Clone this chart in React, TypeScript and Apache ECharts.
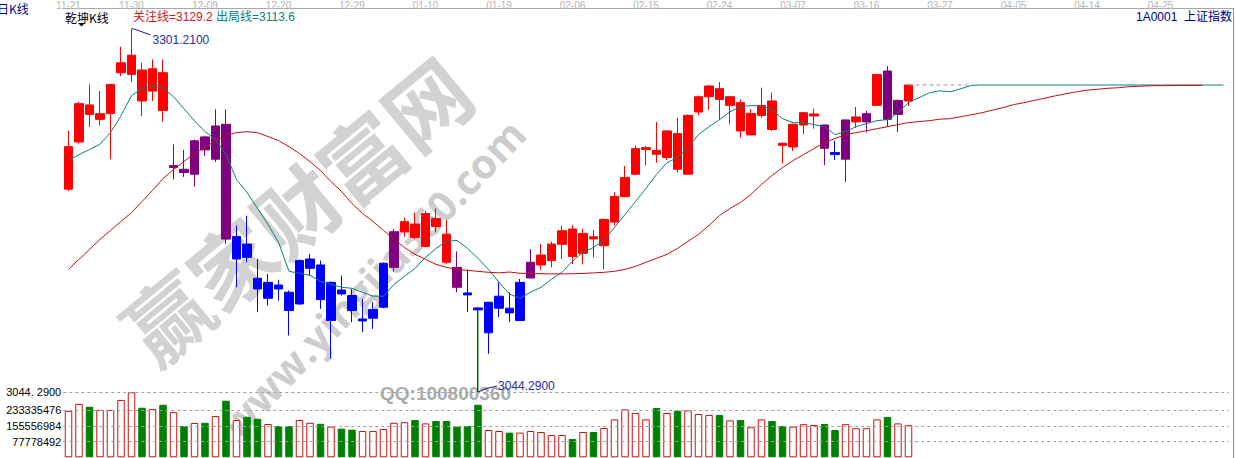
import React, { useEffect, useRef } from 'react';
import * as echarts from 'echarts';

// ---- categories / ticks ----
const slotCount = 111;
const tickSlots = [0, 6, 13, 20, 27, 34, 41, 48, 55, 62, 69, 76, 83, 90, 97, 104];
const tickLabels = ['11-21', '11-30', '12-09', '12-20', '12-29', '01-10', '01-19', '02-06', '02-15', '02-24', '03-07', '03-16', '03-27', '04-05', '04-14', '04-25'];
const categories = Array.from({ length: slotCount }, (_, i) => String(i));

// ---- candles: [open, close, low, high] ----
const ohlc: number[][] = [
  [3187.8, 3217.9, 3186.5, 3229.0], [3221.2, 3248.3, 3220.0, 3249.7], [3247.4, 3240.7, 3231.8, 3261.9], [3237.2, 3241.2, 3233.0, 3257.2], [3241.4, 3261.9, 3209.0, 3262.4],
  [3270.2, 3277.2, 3267.8, 3288.5], [3269.0, 3282.6, 3263.6, 3301.21], [3272.1, 3250.2, 3239.6, 3277.2], [3257.2, 3273.0, 3250.2, 3279.5], [3270.2, 3243.5, 3235.6, 3279.5],
  [3203.1, 3204.5, 3194.8, 3219.5], [3201.9, 3199.6, 3196.5, 3215.6], [3198.4, 3222.0, 3189.5, 3222.9], [3224.8, 3215.6, 3211.4, 3225.7], [3209.0, 3232.5, 3207.1, 3244.3],
  [3233.7, 3152.5, 3149.0, 3244.3], [3138.4, 3154.4, 3118.4, 3162.0], [3149.0, 3139.6, 3136.1, 3169.0], [3124.8, 3117.2, 3100.8, 3138.4], [3110.6, 3121.9, 3105.5, 3127.8],
  [3120.0, 3117.2, 3109.0, 3123.8], [3114.9, 3102.0, 3084.3, 3116.1], [3106.6, 3137.3, 3106.0, 3138.2], [3131.8, 3138.4, 3126.7, 3141.9], [3134.2, 3109.7, 3103.1, 3137.3],
  [3094.9, 3121.9, 3067.8, 3122.5], [3116.5, 3113.7, 3112.6, 3126.7], [3112.6, 3102.0, 3093.7, 3117.2], [3094.6, 3096.0, 3086.6, 3110.2], [3096.5, 3102.7, 3089.0, 3107.8],
  [3104.3, 3135.4, 3103.6, 3136.1], [3132.5, 3157.7, 3129.5, 3159.6], [3157.7, 3164.8, 3154.2, 3167.8], [3163.1, 3153.7, 3152.5, 3171.3], [3147.3, 3170.6, 3146.6, 3172.5],
  [3167.1, 3161.3, 3157.2, 3174.2], [3156.0, 3136.1, 3134.9, 3166.2], [3132.5, 3118.4, 3114.9, 3143.8], [3114.4, 3113.0, 3100.8, 3130.9], [3103.8, 3102.4, 3044.29, 3104.3],
  [3086.2, 3107.8, 3071.3, 3108.2], [3103.6, 3112.1, 3097.2, 3122.6], [3103.6, 3100.3, 3093.7, 3114.9], [3094.9, 3121.9, 3094.5, 3124.3], [3125.0, 3136.1, 3124.8, 3145.4],
  [3134.2, 3141.2, 3130.9, 3149.0], [3137.3, 3149.0, 3132.5, 3150.7], [3148.8, 3158.4, 3138.4, 3162.0], [3159.6, 3140.1, 3134.9, 3162.4], [3142.4, 3156.5, 3134.6, 3159.6],
  [3154.1, 3152.6, 3139.6, 3159.0], [3147.8, 3166.4, 3131.3, 3167.1], [3164.5, 3182.6, 3162.2, 3185.7], [3182.6, 3196.0, 3181.9, 3204.3], [3198.4, 3216.5, 3198.2, 3218.8],
  [3215.8, 3217.2, 3204.7, 3218.4], [3215.3, 3212.5, 3206.6, 3235.4], [3210.2, 3229.0, 3208.5, 3229.6], [3227.1, 3201.9, 3199.6, 3238.4], [3198.4, 3240.0, 3198.2, 3240.7],
  [3242.4, 3253.2, 3240.0, 3254.0], [3253.2, 3260.8, 3243.8, 3261.3], [3258.9, 3251.3, 3236.8, 3263.6], [3247.1, 3253.2, 3233.7, 3253.6], [3249.0, 3229.0, 3224.3, 3251.3],
  [3226.2, 3241.4, 3226.0, 3244.3], [3240.0, 3247.1, 3238.4, 3259.6], [3250.2, 3230.1, 3229.0, 3256.0], [3220.3, 3218.8, 3206.1, 3220.8], [3217.7, 3233.7, 3214.9, 3234.2],
  [3233.2, 3241.9, 3226.6, 3242.3], [3239.6, 3241.0, 3230.6, 3244.7], [3233.2, 3216.7, 3204.7, 3233.4], [3213.7, 3212.3, 3208.5, 3222.0], [3209.0, 3236.8, 3193.0, 3237.0],
  [3235.4, 3238.9, 3231.3, 3246.0], [3235.4, 3241.2, 3227.8, 3243.1], [3247.1, 3269.0, 3246.9, 3269.4], [3271.4, 3237.2, 3231.8, 3274.9], [3240.7, 3250.6, 3228.3, 3251.3],
  [3250.2, 3261.5, 3246.7, 3261.7],
];

// trend state of each candle: R red, P purple, B blue
const trend: string[] = [
  'R', 'R', 'R', 'R', 'R', 'R', 'R', 'R', 'R', 'R',
  'P', 'P', 'P', 'P', 'P', 'P', 'B', 'B', 'B', 'B',
  'B', 'B', 'B', 'B', 'B', 'B', 'B', 'B', 'B', 'B',
  'B', 'P', 'R', 'R', 'R', 'R', 'R', 'P', 'B', 'B',
  'B', 'B', 'B', 'B', 'P', 'R', 'R', 'R', 'R', 'R',
  'R', 'R', 'R', 'R', 'R', 'R', 'R', 'R', 'R', 'R',
  'R', 'R', 'R', 'R', 'R', 'R', 'R', 'R', 'R', 'R',
  'R', 'R', 'P', 'B', 'P', 'R', 'P', 'R', 'P', 'P',
  'R',
];

const volumes: number[] = [
  232000000, 266000000, 252000000, 236000000, 236000000, 286000000, 324000000, 247000000, 241000000, 262000000,
  226000000, 156000000, 171000000, 172000000, 206000000, 282000000, 186000000, 202000000, 192000000, 166000000,
  156000000, 156000000, 186000000, 172000000, 167000000, 153000000, 143000000, 138000000, 131000000, 131000000,
  141000000, 172000000, 175000000, 186000000, 169000000, 181000000, 181000000, 153000000, 156000000, 262000000,
  136000000, 131000000, 123000000, 123000000, 131000000, 126000000, 111000000, 111000000, 91000000, 126000000,
  126000000, 146000000, 189000000, 239000000, 221000000, 189000000, 246000000, 221000000, 232000000, 234000000,
  216000000, 211000000, 211000000, 184000000, 186000000, 150000000, 189000000, 181000000, 156000000, 153000000,
  165000000, 161000000, 166000000, 136000000, 165000000, 145000000, 145000000, 189000000, 201000000, 169000000,
  160000000,
];

// 出局线 (teal, short line) incl. projection
const exitLine: (number | null)[] = [
  3208.0, 3212.3, 3215.8, 3219.6, 3227.8, 3239.8, 3253.9, 3258.9, 3261.0, 3259.6,
  3253.2, 3244.7, 3236.3, 3228.5, 3222.9, 3212.3, 3194.6, 3185.5, 3174.2, 3162.9,
  3150.2, 3129.7, 3128.3, 3126.9, 3122.6, 3120.5, 3118.4, 3117.7, 3114.9, 3112.1,
  3112.1, 3120.5, 3126.2, 3131.8, 3139.6, 3145.9, 3150.9, 3151.6, 3145.9, 3138.9,
  3131.1, 3121.9, 3113.6, 3110.6, 3114.9, 3118.4, 3124.1, 3129.0, 3136.8, 3143.1,
  3146.6, 3151.6, 3160.8, 3169.9, 3179.1, 3188.3, 3198.2, 3206.6, 3210.2, 3217.2,
  3226.4, 3232.0, 3237.0, 3242.6, 3246.2, 3246.9, 3246.9, 3244.0, 3237.7, 3234.9,
  3234.9, 3233.5, 3232.0, 3226.4, 3228.5, 3232.0, 3234.2, 3236.3, 3237.0, 3241.9,
  3249.0, 3252.5, 3256.0, 3257.4, 3256.7, 3258.9, 3261.3, 3261.5, 3261.5, 3261.5,
  3261.5, 3261.5, 3261.5, 3261.5, 3261.5, 3261.5, 3261.5, 3261.5, 3261.5, 3261.5,
  3261.5, 3261.5, 3261.5, 3261.5, 3261.5, 3261.5, 3261.5, 3261.5, 3261.5, 3261.5,
  3261.5,
];

// 关注线 (red, long line) incl. projection
const watchLine: (number | null)[] = [
  3131.1, 3138.2, 3145.2, 3152.3, 3158.6, 3165.0, 3171.3, 3179.1, 3186.9, 3195.3,
  3201.7, 3207.3, 3213.0, 3217.2, 3222.2, 3225.7, 3227.8, 3228.5, 3227.8, 3225.0,
  3222.2, 3217.9, 3213.0, 3207.3, 3201.0, 3193.2, 3186.2, 3177.7, 3170.6, 3165.0,
  3158.6, 3152.3, 3146.6, 3141.7, 3138.2, 3134.6, 3132.5, 3131.1, 3130.4, 3129.7,
  3129.0, 3128.6, 3129.2, 3128.3, 3128.2, 3128.0, 3127.9, 3127.9, 3128.0, 3128.2,
  3128.6, 3129.0, 3129.7, 3131.1, 3133.2, 3136.1, 3138.9, 3141.7, 3145.9, 3150.9,
  3155.8, 3162.2, 3169.2, 3174.2, 3178.4, 3184.1, 3191.1, 3197.5, 3203.1, 3208.0,
  3212.3, 3216.5, 3220.8, 3223.6, 3226.4, 3227.8, 3229.2, 3230.6, 3232.0, 3233.5,
  3234.9, 3235.6, 3236.3, 3237.3, 3237.7, 3239.1, 3240.5, 3241.9, 3243.7, 3245.5,
  3247.6, 3249.0, 3250.7, 3252.2, 3253.9, 3255.3, 3256.7, 3257.8, 3258.5, 3259.2,
  3259.6, 3260.3, 3260.6, 3261.0, 3261.0, 3261.1, 3261.2, 3261.2, 3261.2, null,
  null,
];

const volumeTicks = [77778492, 155556984, 233335476, 325500000];
const volumeTickLabels = ['77778492', '155556984', '233335476', '3044. 2900'];

const trendColor: Record<string, string> = { R: '#ff0000', P: '#800080', B: '#0000ff' };

const CJK = '"Noto Sans CJK SC", sans-serif';
const NUM = '"Liberation Sans", "Noto Sans CJK SC", sans-serif';

export default function App() {
  const ref = useRef<HTMLDivElement>(null);
  useEffect(() => {
    if (!ref.current) return;
    const chart = echarts.init(ref.current, undefined, { renderer: 'svg' });

    const lastIdx = ohlc.length - 1;
    const lastClose = ohlc[lastIdx][1];
    const guide: (number | null)[] = categories.map((_, i) => (i >= lastIdx && i <= lastIdx + 6 ? lastClose : null));

    const mid = { textVerticalAlign: 'middle', verticalAlign: 'middle' };
    const center = { textAlign: 'center', align: 'center', textVerticalAlign: 'middle', verticalAlign: 'middle' };

    const staticGraphics: any[] = [
      // watermark (behind the series)
      { type: 'text', x: 295, y: 208, rotation: 0.69, z: -1, style: { text: '赢家财富网', fill: '#d2d2d2', font: 'bold 84px ' + CJK, ...center }, silent: true },
      { type: 'text', x: 372, y: 278, rotation: 0.81, z: -1, style: { text: 'www.yingjia360.com', fill: '#cdcdcd', font: 'bold 41px "Open Sans", sans-serif', ...center }, silent: true },
      { type: 'text', x: 380, y: 393, z: -1, style: { text: 'QQ:100800360', fill: '#ababab', font: 'bold 19px "Liberation Sans", sans-serif', ...mid }, silent: true },
      // frame
      { type: 'line', shape: { x1: 63, y1: 8.5, x2: 1233, y2: 8.5 }, style: { stroke: '#a8a8a8', lineWidth: 1 }, silent: true },
      { type: 'line', shape: { x1: 1233.5, y1: 8, x2: 1233.5, y2: 458 }, style: { stroke: '#8c8c8c', lineWidth: 1 }, silent: true },
      // header texts
      { type: 'text', x: -3, y: 8, style: { text: '日K线', fill: '#000080', font: '12px ' + CJK, ...mid }, silent: true },
      { type: 'text', x: 65, y: 17, style: { text: '乾坤K线', fill: '#000000', font: '12px ' + CJK, ...mid }, silent: true },
      { type: 'polygon', shape: { points: [[78, 23], [85, 23], [81.5, 26.5]] }, style: { fill: '#000000' }, silent: true },
      { type: 'text', x: 133, y: 17, style: { text: '关注线=3129.2', fill: '#d01818', font: '12px ' + NUM, ...mid }, silent: true },
      { type: 'text', x: 216, y: 17, style: { text: '出局线=3113.6', fill: '#108080', font: '12px ' + NUM, ...mid }, silent: true },
      { type: 'text', x: 1232, y: 17, style: { text: '1A0001  上证指数', fill: '#000080', font: '12px ' + NUM, textAlign: 'right', align: 'right', ...mid }, silent: true },
    ];

    const option: any = {
      animation: false,
      backgroundColor: '#ffffff',
      grid: [
        { left: 63.25, width: 1165.5, top: 8, height: 388 },
        { left: 63.25, width: 1165.5, top: 392, height: 65.3 },
      ],
      xAxis: [
        {
          type: 'category', gridIndex: 0, data: categories, position: 'top', boundaryGap: true,
          axisLine: { show: false }, axisTick: { show: false }, splitLine: { show: false },
          axisLabel: {
            interval: (i: number) => tickSlots.includes(i),
            formatter: (_v: string, i: number) => { const k = tickSlots.indexOf(i); return k >= 0 ? tickLabels[k] : ''; },
            fontSize: 10, color: '#b4b4b4', margin: 1, fontFamily: 'Liberation Sans',
          },
        },
        { type: 'category', gridIndex: 1, data: categories, show: false, boundaryGap: true },
      ],
      yAxis: [
        { type: 'value', gridIndex: 0, min: 3041.5, max: 3313.85, show: false, splitLine: { show: false } },
        { type: 'value', gridIndex: 1, min: 0, max: 325500000, show: false, splitLine: { show: false } },
      ],
      graphic: { elements: staticGraphics },
      series: [
        {
          type: 'candlestick', xAxisIndex: 0, yAxisIndex: 0, barWidth: 9, silent: true,
          data: ohlc.map((d, i) => {
            const c = trendColor[trend[i]];
            return { value: d, itemStyle: { color: c, color0: c, borderColor: c, borderColor0: c, borderWidth: 1 } };
          }),
        },
        { type: 'line', xAxisIndex: 0, yAxisIndex: 0, data: exitLine, symbol: 'none', silent: true, lineStyle: { color: '#0a7f7f', width: 1 } },
        { type: 'line', xAxisIndex: 0, yAxisIndex: 0, data: watchLine, symbol: 'none', silent: true, lineStyle: { color: '#c01010', width: 1 } },
        { type: 'line', xAxisIndex: 0, yAxisIndex: 0, data: guide, symbol: 'none', silent: true, lineStyle: { color: '#b09090', width: 1, type: [4, 3] } },
        {
          type: 'bar', xAxisIndex: 1, yAxisIndex: 1, barWidth: 7.5, silent: true,
          data: volumes.map((v, i) => {
            const up = ohlc[i][1] >= ohlc[i][0];
            return {
              value: v,
              itemStyle: up ? { color: '#ffffff', borderColor: '#cc1010', borderWidth: 1 } : { color: '#008000', borderColor: '#008000', borderWidth: 1 },
            };
          }),
          markLine: {
            silent: true, symbol: ['none', 'none'], animation: false,
            lineStyle: { color: '#a0a0a0', width: 1, type: [3, 3] },
            label: { show: true, position: 'start', formatter: '{b}', color: '#000000', fontSize: 11, fontFamily: 'Liberation Sans', distance: 2 },
            data: volumeTicks.map((v, k) => ({
              yAxis: v, name: volumeTickLabels[k],
              label: k === volumeTicks.length - 1 ? { padding: [0, 0, 16, 0] } : {},
            })),
          },
        },
      ],
    };

    chart.setOption(option);

    // extreme markers
    let hiIdx = 0, loIdx = 0;
    ohlc.forEach((d, i) => { if (d[3] > ohlc[hiIdx][3]) hiIdx = i; if (d[2] < ohlc[loIdx][2]) loIdx = i; });
    const hiVal = ohlc[hiIdx][3];
    const loVal = ohlc[loIdx][2];
    const [hx, hy] = chart.convertToPixel({ xAxisIndex: 0, yAxisIndex: 0 }, [hiIdx, hiVal]) as number[];
    const [lx, ly] = chart.convertToPixel({ xAxisIndex: 0, yAxisIndex: 0 }, [loIdx, loVal]) as number[];
    const [, lBody] = chart.convertToPixel({ xAxisIndex: 0, yAxisIndex: 0 }, [loIdx, Math.min(ohlc[loIdx][0], ohlc[loIdx][1])]) as number[];

    const dynamicGraphics: any[] = [
      { type: 'polyline', shape: { points: [[hx, hy], [hx + 2, hy], [hx + 19, hy + 6]] }, style: { stroke: '#1a1a8c', lineWidth: 1, fill: null }, silent: true },
      { type: 'text', x: hx + 21, y: hy + 11, style: { text: hiVal.toFixed(4), fill: '#2828a0', font: '12px ' + NUM, ...mid }, silent: true },
      { type: 'line', shape: { x1: lx, y1: lBody + 1, x2: lx, y2: ly }, style: { stroke: '#008000', lineWidth: 1 }, silent: true, z: 5 },
      { type: 'polyline', shape: { points: [[lx, ly], [lx + 10, ly - 4], [lx + 19, ly - 6]] }, style: { stroke: '#1a1a8c', lineWidth: 1, fill: null }, silent: true },
      { type: 'text', x: lx + 20, y: ly - 6, style: { text: loVal.toFixed(4), fill: '#2828a0', font: '12px ' + NUM, ...mid }, silent: true },
    ];
    chart.setOption({ graphic: { elements: [...staticGraphics, ...dynamicGraphics] } });

    return () => chart.dispose();
  }, []);

  return <div ref={ref} style={{ position: 'fixed', left: 0, top: 0, width: 1235, height: 458, background: '#fff' }} />;
}
